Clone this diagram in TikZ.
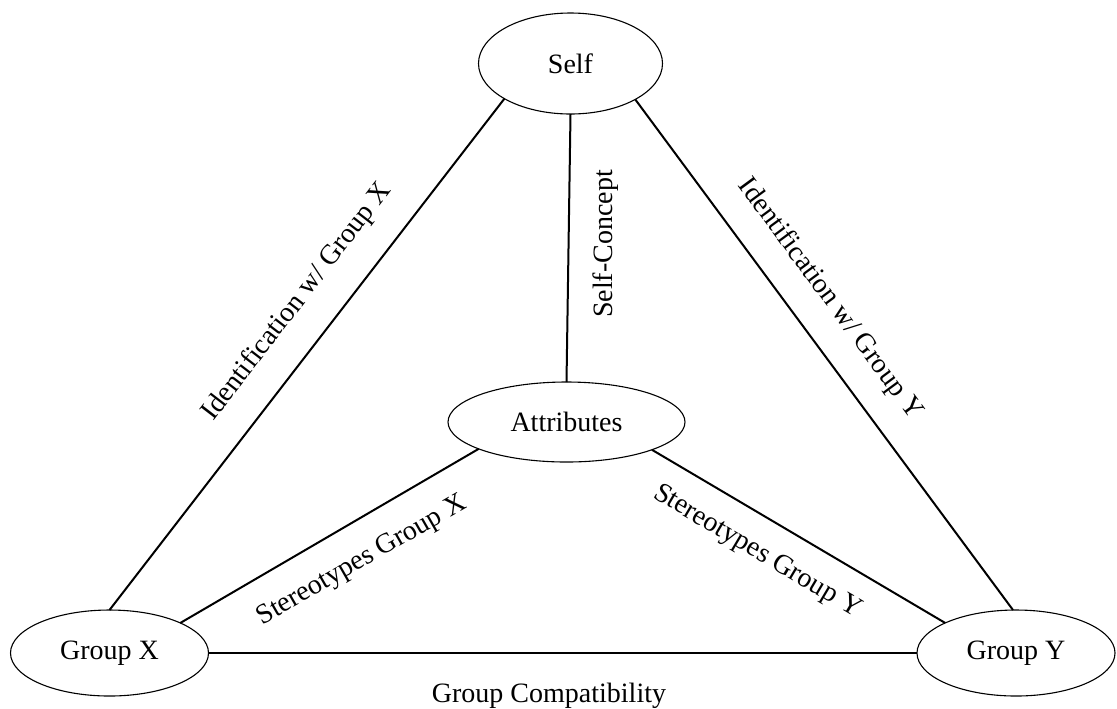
\documentclass[tikz,border=0pt]{standalone}
\usepackage{fontspec}
\setmainfont{Liberation Serif}
\usetikzlibrary{shapes.geometric}
\begin{document}
\begin{tikzpicture}[x=0.5pt,y=-0.5pt,
  concept/.style={ellipse, draw, line width=0.55pt, outer sep=0pt, inner sep=0pt,
    font=\fontsize{14}{16}\selectfont},
  link/.style={line width=1pt},
  linklabel/.style={font=\fontsize{14}{16}\selectfont, inner sep=0pt}]
\useasboundingbox (0,0) rectangle (1117,708);

% concepts
\node[concept, minimum width=92pt, minimum height=50.5pt] (self) at (570.5,63.5) {Self};
\node[concept, minimum width=118.5pt, minimum height=40pt] (attr) at (566.5,422) {Attributes};
\node[concept, minimum width=99pt, minimum height=43pt] (gx) at (109.5,653) {Group X};
\node[concept, minimum width=99pt, minimum height=43pt] (gy) at (1016,653) {Group Y};

% relations
\draw[link] (self.208.1) -- (gx.90);
\draw[link] (self.270) -- (attr.90);
\draw[link] (self.331.5) -- (gy.94);
\draw[link] (attr.197.7) -- (gx.23.05);
\draw[link] (attr.342.5) -- (gy.157.1);
\draw[link] (gx.0) -- (gy.180);

% relation labels
\node[linklabel, rotate=52.4] (lidx) at (297,302) {Identification w/ Group X};
\node[linklabel, rotate=90] (lsc) at (606,244) {Self-Concept};
\node[linklabel, rotate=-53.6] (lidy) at (830,299) {Identification w/ Group Y};
\node[linklabel, rotate=29.9] (lstx) at (362,561) {Stereotypes Group X};
\node[linklabel, rotate=-30.7] (lsty) at (757,552) {Stereotypes Group Y};
\node[linklabel, anchor=base] (lgc) at (549,702) {Group Compatibility};
\end{tikzpicture}
\end{document}
